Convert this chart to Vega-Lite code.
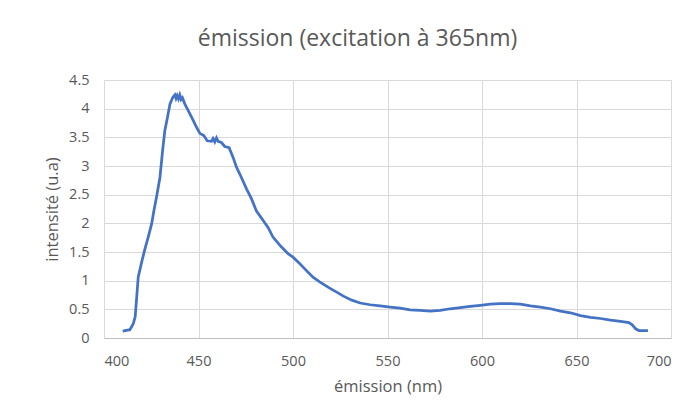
{
  "$schema": "https://vega.github.io/schema/vega-lite/v6.json",
  "width": 567,
  "height": 258,
  "autosize": {"type": "none"},
  "padding": {"left": 104, "top": 80, "right": 22, "bottom": 79},
  "background": "white",
  "config": {
    "view": {"stroke": null},
    "font": "Open Sans",
    "axis": {"labelFont": "Open Sans", "titleFont": "Open Sans", "labelColor": "#595959", "titleColor": "#595959", "labelFontSize": 14.5, "titleFontSize": 16.5, "titleFontWeight": "normal", "gridColor": "#d9d9d9", "gridWidth": 1, "ticks": false}
  },
  "title": {"text": "émission (excitation à 365nm)", "fontSize": 23, "fontWeight": "normal", "color": "#595959", "font": "Open Sans", "offset": 21, "dx": -30},
  "data": {"values": [
    {"nm": 409.9, "v": 0.12}, {"nm": 413.7, "v": 0.145}, {"nm": 415.5, "v": 0.25}, {"nm": 416.5, "v": 0.37},
    {"nm": 417.3, "v": 0.71}, {"nm": 418.1, "v": 1.06}, {"nm": 419.9, "v": 1.32}, {"nm": 421.7, "v": 1.56},
    {"nm": 423.4, "v": 1.76}, {"nm": 425.2, "v": 1.99}, {"nm": 426.4, "v": 2.22}, {"nm": 427.8, "v": 2.46},
    {"nm": 429.6, "v": 2.80}, {"nm": 431.0, "v": 3.27}, {"nm": 432.2, "v": 3.62}, {"nm": 433.6, "v": 3.85},
    {"nm": 434.9, "v": 4.08}, {"nm": 436.3, "v": 4.19}, {"nm": 437.5, "v": 4.24}, {"nm": 438.1, "v": 4.18},
    {"nm": 438.7, "v": 4.23}, {"nm": 439.4, "v": 4.17}, {"nm": 440.1, "v": 4.24}, {"nm": 440.8, "v": 4.16},
    {"nm": 441.5, "v": 4.19}, {"nm": 442.8, "v": 4.08}, {"nm": 444.5, "v": 3.97}, {"nm": 446.8, "v": 3.82},
    {"nm": 448.9, "v": 3.68}, {"nm": 450.7, "v": 3.57}, {"nm": 452.8, "v": 3.53}, {"nm": 454.6, "v": 3.44},
    {"nm": 456.9, "v": 3.43}, {"nm": 457.7, "v": 3.48}, {"nm": 458.6, "v": 3.42}, {"nm": 459.5, "v": 3.49},
    {"nm": 460.4, "v": 3.43}, {"nm": 462.1, "v": 3.41}, {"nm": 463.9, "v": 3.34}, {"nm": 466.2, "v": 3.32},
    {"nm": 468.3, "v": 3.15}, {"nm": 470.1, "v": 2.98}, {"nm": 472.7, "v": 2.80}, {"nm": 475.4, "v": 2.60},
    {"nm": 478.0, "v": 2.43}, {"nm": 480.6, "v": 2.22}, {"nm": 484.2, "v": 2.05}, {"nm": 486.8, "v": 1.93},
    {"nm": 489.4, "v": 1.76}, {"nm": 493.8, "v": 1.59}, {"nm": 497.4, "v": 1.47}, {"nm": 500.0, "v": 1.41},
    {"nm": 503.5, "v": 1.30}, {"nm": 507.0, "v": 1.18}, {"nm": 510.6, "v": 1.06}, {"nm": 514.1, "v": 0.98},
    {"nm": 519.4, "v": 0.87}, {"nm": 523.1, "v": 0.80}, {"nm": 526.7, "v": 0.73}, {"nm": 531.1, "v": 0.66},
    {"nm": 535.5, "v": 0.61}, {"nm": 540.8, "v": 0.58}, {"nm": 546.1, "v": 0.56}, {"nm": 551.4, "v": 0.54},
    {"nm": 556.7, "v": 0.52}, {"nm": 562.0, "v": 0.49}, {"nm": 567.3, "v": 0.48}, {"nm": 572.6, "v": 0.47},
    {"nm": 577.9, "v": 0.48}, {"nm": 583.2, "v": 0.51}, {"nm": 588.5, "v": 0.53}, {"nm": 593.8, "v": 0.55},
    {"nm": 599.1, "v": 0.57}, {"nm": 604.4, "v": 0.59}, {"nm": 609.7, "v": 0.60}, {"nm": 615.0, "v": 0.60},
    {"nm": 620.3, "v": 0.59}, {"nm": 625.6, "v": 0.56}, {"nm": 630.9, "v": 0.54}, {"nm": 636.2, "v": 0.51},
    {"nm": 641.5, "v": 0.47}, {"nm": 646.8, "v": 0.44}, {"nm": 652.1, "v": 0.39}, {"nm": 657.4, "v": 0.36},
    {"nm": 662.7, "v": 0.34}, {"nm": 668.0, "v": 0.31}, {"nm": 673.3, "v": 0.29}, {"nm": 677.7, "v": 0.27},
    {"nm": 679.5, "v": 0.23}, {"nm": 681.3, "v": 0.16}, {"nm": 683.0, "v": 0.13}, {"nm": 687.8, "v": 0.13}
  ]},
  "mark": {"type": "line", "color": "#4472C4", "strokeWidth": 2.75, "interpolate": "linear"},
  "encoding": {
    "x": {"field": "nm", "type": "quantitative", "scale": {"domain": [400, 700], "nice": false, "zero": false},
      "axis": {"title": "émission (nm)", "values": [400, 450, 500, 550, 600, 650, 700], "domain": true, "domainColor": "#bfbfbf", "labelPadding": 16, "titlePadding": 11}},
    "y": {"field": "v", "type": "quantitative", "scale": {"domain": [0, 4.5], "nice": false},
      "axis": {"title": "intensité (u.a)", "values": [0, 0.5, 1, 1.5, 2, 2.5, 3, 3.5, 4, 4.5], "format": "~g", "domain": false, "labelPadding": 15, "titlePadding": 8, "labelFlush": false}}
  }
}
